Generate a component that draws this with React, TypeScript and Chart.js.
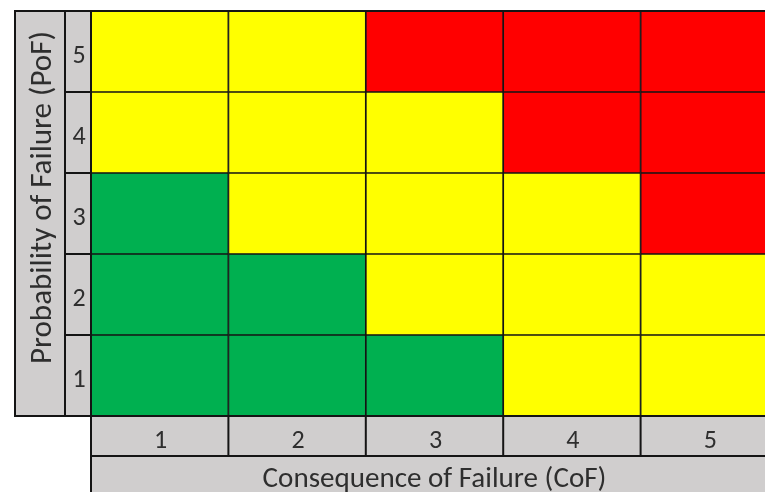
import { useEffect, useRef } from 'react';
import { Chart, registerables } from 'chart.js';

Chart.register(...registerables);

// Consequence of Failure categories (x) and Probability of Failure levels (y)
const cofLabels = ['1', '2', '3', '4', '5'];
const pofLabels = ['1', '2', '3', '4', '5'];
const xTitle = 'Consequence of Failure (CoF)';
const yTitle = 'Probability of Failure (PoF)';

// Risk level per cell, one row per PoF level, columns CoF 1..5
const pof1 = ['L', 'L', 'L', 'M', 'M'];
const pof2 = ['L', 'L', 'M', 'M', 'M'];
const pof3 = ['L', 'M', 'M', 'M', 'H'];
const pof4 = ['M', 'M', 'M', 'H', 'H'];
const pof5 = ['M', 'M', 'H', 'H', 'H'];
const riskRows = [pof1, pof2, pof3, pof4, pof5];

// each cell occupies one unit of PoF
const cellSpan = [1, 1, 1, 1, 1];

const riskColors: Record<string, string> = { L: '#00B050', M: '#FFFF00', H: '#FF0000' };

const GRAY = '#D0CECE';
const LINE = '#141414';
const TEXT = '#2e2e2e';
const FONT = 'Carlito, Calibri, Lato, sans-serif';

const W = 790;
const H = 492;

const framePlugin = {
  id: 'riskFrame',
  beforeDatasetsDraw(chart: any) {
    const { ctx, chartArea } = chart;
    const { left, top, bottom, right } = chartArea;
    ctx.save();
    ctx.fillStyle = GRAY;
    ctx.fillRect(left - 76, top, 76, bottom - top);
    ctx.fillRect(left, bottom, right - left + 20, H - bottom);
    ctx.restore();
  },
  afterDraw(chart: any) {
    const { ctx, chartArea, scales } = chart;
    const { left, top, bottom, right } = chartArea;
    const xs = scales.x;
    const ys = scales.y;
    ctx.save();
    ctx.strokeStyle = LINE;
    ctx.lineWidth = 2;
    const line = (x1: number, y1: number, x2: number, y2: number) => {
      ctx.beginPath();
      ctx.moveTo(x1, y1);
      ctx.lineTo(x2, y2);
      ctx.stroke();
    };
    const outerL = left - 76;
    const numL = left - 26;
    line(outerL, top, right + 20, top);
    line(outerL, top - 1, outerL, bottom + 1);
    line(outerL, bottom, right + 20, bottom);
    line(numL, top, numL, bottom);
    line(left, top, left, H);
    for (let k = 1; k < pofLabels.length; k++) {
      const y = ys.getPixelForValue(k);
      line(numL, y, left, y);
    }
    const tickBottom = bottom + 40;
    line(left, tickBottom, right + 20, tickBottom);
    for (let i = 0; i < cofLabels.length; i++) {
      const xb = xs.getPixelForValue(i + 0.5);
      line(xb, bottom, xb, tickBottom);
    }

    ctx.fillStyle = TEXT;
    ctx.textAlign = 'center';
    ctx.textBaseline = 'alphabetic';
    ctx.font = `26px ${FONT}`;
    cofLabels.forEach((lab, i) => {
      ctx.fillText(lab, xs.getPixelForValue(i) + 1, bottom + 32);
    });
    pofLabels.forEach((lab, i) => {
      ctx.fillText(lab, numL + 14, ys.getPixelForValue(i + 0.5) + 11);
    });

    const fit = (text: string, target: number) => {
      ctx.font = `24px ${FONT}`;
      const w = ctx.measureText(text).width;
      return (24 * target) / w;
    };
    let fs = fit(xTitle, 344);
    ctx.font = `${fs}px ${FONT}`;
    ctx.fillText(xTitle, (left + right) / 2, tickBottom + 31);

    fs = fit(yTitle, 333);
    ctx.font = `${fs}px ${FONT}`;
    ctx.translate(outerL + 36, (top + bottom) / 2 - 16);
    ctx.rotate(-Math.PI / 2);
    ctx.fillText(yTitle, 0, 0);
    ctx.restore();
  },
};

export default function App() {
  const ref = useRef<HTMLCanvasElement | null>(null);

  useEffect(() => {
    document.body.style.margin = '0';
    document.body.style.overflow = 'hidden';
    const canvas = ref.current;
    if (!canvas) return;
    const datasets = riskRows.map((row, r) => ({
      label: `PoF ${pofLabels[r]}`,
      data: cellSpan.slice(),
      backgroundColor: row.map((lvl) => riskColors[lvl]),
      borderColor: LINE,
      borderWidth: 1.2,
      borderSkipped: false as const,
      stack: 'risk',
      categoryPercentage: 1,
      barPercentage: 1,
    }));
    const chart = new Chart(canvas, {
      type: 'bar',
      data: { labels: cofLabels, datasets },
      options: {
        responsive: false,
        animation: false,
        devicePixelRatio: 1,
        layout: { padding: { left: 91, top: 11, right: W - 778, bottom: H - 416 } },
        scales: {
          x: { type: 'category', stacked: true, display: false, offset: true },
          y: { type: 'linear', stacked: true, min: 0, max: 5, display: false },
        },
        plugins: {
          legend: { display: false },
          tooltip: { enabled: false },
        },
      },
      plugins: [framePlugin],
    });
    return () => chart.destroy();
  }, []);

  return (
    <div style={{ width: 765, height: 492, overflow: 'hidden', background: '#fff' }}>
      <canvas ref={ref} width={W} height={H} style={{ display: 'block', width: W, height: H }} />
    </div>
  );
}
